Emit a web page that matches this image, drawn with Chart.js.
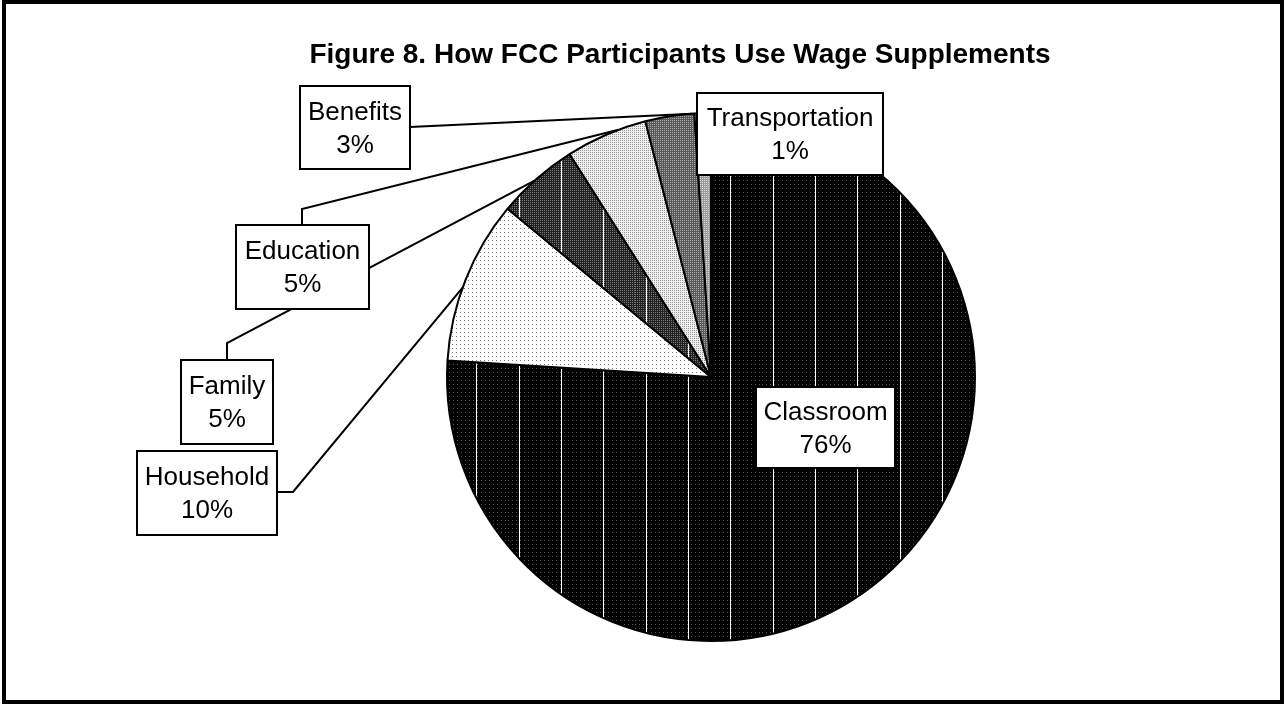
<!DOCTYPE html>
<html>
<head>
<meta charset="utf-8">
<script src="https://cdn.jsdelivr.net/npm/chart.js@4/dist/chart.umd.min.js"></script>
<style>
  body { margin: 0; background: #fff; }
  canvas { display: block; }
</style>
</head>
<body>
<canvas id="myChart" width="1284" height="704"></canvas>
<script>
// datos del grafico
var categorias = ['Classroom', 'Household', 'Family', 'Education', 'Benefits', 'Transportation'];
var porcentajes = [76, 10, 5, 5, 3, 1];
var titulo = 'Figure 8. How FCC Participants Use Wage Supplements';

// cajas de etiquetas (x1, y1, x2, y2) y recorrido de la linea guia
var cajas = [
    { caja: [756, 387, 895, 468], guia: null },
    { caja: [137, 451, 277, 535], guia: [[277, 492], [293, 492]], pos: 0.45 },
    { caja: [181, 360, 273, 444], guia: [[227, 360], [227, 343]], pos: 0.47 },
    { caja: [236, 225, 369, 309], guia: [[302, 225], [302, 209]], pos: 0.66 },
    { caja: [300, 86, 410, 169], guia: [[410, 127]], pos: 0.96 },
    { caja: [697, 93, 883, 175], guia: null }
];

// tramas de relleno
function trama(ancho, alto, fondo, puntos, lineas) {
    var c = document.createElement('canvas');
    c.width = ancho;
    c.height = alto;
    var g = c.getContext('2d');
    g.fillStyle = fondo;
    g.fillRect(0, 0, ancho, alto);
    if (puntos) {
        g.fillStyle = puntos.color;
        for (var y = 0; y < alto; y += puntos.paso) {
            var desfase = (y / puntos.paso) % 2 ? puntos.paso / 2 : 0;
            for (var x = desfase; x < ancho; x += puntos.paso) {
                g.fillRect(x, y, 1, 1);
            }
        }
    }
    if (lineas) {
        g.fillStyle = '#fff';
        for (var i = 0; i < lineas.length; i++) {
            g.fillRect(lineas[i], 0, 1, alto);
        }
    }
    return g.createPattern(c, 'repeat');
}

var ctxTmp = document.getElementById('myChart').getContext('2d');
var rellenos = [
    trama(127, 4, '#000', { color: '#555', paso: 4 }, [11, 53, 95]),
    trama(4, 4, '#fff', { color: '#777', paso: 4 }, null),
    trama(127, 2, '#222', { color: '#777', paso: 2 }, [11, 53, 95]),
    trama(2, 2, '#eee', { color: '#999', paso: 2 }, null),
    trama(2, 2, '#5a5a5a', { color: '#aaa', paso: 2 }, null),
    trama(2, 2, '#999', { color: '#ddd', paso: 2 }, null)
];

// titulo, guias, cajas y marco
var etiquetas = {
    id: 'etiquetas',
    afterDatasetsDraw: function(chart) {
        var ctx = chart.ctx;
        var arcos = chart.getDatasetMeta(0).data;
        ctx.save();

        ctx.fillStyle = '#000';
        ctx.font = 'bold 28px "Liberation Sans", Arial, sans-serif';
        ctx.textAlign = 'center';
        ctx.textBaseline = 'alphabetic';
        ctx.fillText(titulo, 680, 63);

        ctx.strokeStyle = '#000';
        ctx.lineWidth = 2;
        for (var i = 0; i < cajas.length; i++) {
            var c = cajas[i];
            if (!c.guia) continue;
            var a = arcos[i];
            var ang = a.startAngle + (a.endAngle - a.startAngle) * c.pos;
            ctx.beginPath();
            ctx.moveTo(c.guia[0][0], c.guia[0][1]);
            for (var j = 1; j < c.guia.length; j++) {
                ctx.lineTo(c.guia[j][0], c.guia[j][1]);
            }
            ctx.lineTo(a.x + a.outerRadius * Math.cos(ang), a.y + a.outerRadius * Math.sin(ang));
            ctx.stroke();
        }

        ctx.font = '26px "Liberation Sans", Arial, sans-serif';
        for (var k = 0; k < cajas.length; k++) {
            var b = cajas[k].caja;
            ctx.fillStyle = '#fff';
            ctx.fillRect(b[0], b[1], b[2] - b[0], b[3] - b[1]);
            ctx.strokeRect(b[0], b[1], b[2] - b[0], b[3] - b[1]);
            var cx = (b[0] + b[2]) / 2;
            var cy = (b[1] + b[3]) / 2;
            ctx.fillStyle = '#000';
            ctx.fillText(categorias[k], cx, cy - 8);
            ctx.fillText(porcentajes[k] + '%', cx, cy + 25);
        }

        ctx.lineWidth = 4;
        ctx.strokeRect(4, 2, 1278, 700);
        ctx.restore();
    }
};

var datosChart = {
    labels: categorias,
    datasets: [{
        data: porcentajes,
        backgroundColor: rellenos,
        borderColor: '#000',
        borderWidth: 2
    }]
};

var grafico = new Chart(document.getElementById('myChart'), {
    type: 'pie',
    data: datosChart,
    options: {
        responsive: false,
        animation: false,
        radius: 264,
        layout: { padding: { left: 138, right: 0, top: 50, bottom: 0 } },
        plugins: {
            legend: { display: false },
            tooltip: { enabled: false },
            title: { display: false }
        }
    },
    plugins: [etiquetas]
});
</script>
</body>
</html>
